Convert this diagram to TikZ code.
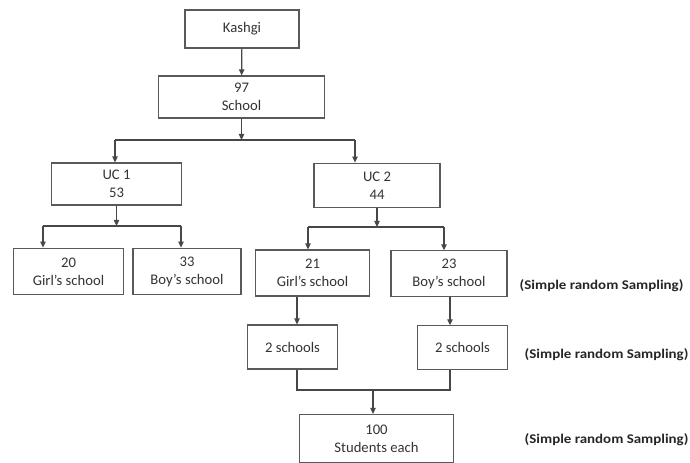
\documentclass[tikz,border=0pt]{standalone}
\usepackage{fontspec}
\setmainfont{Carlito}
\newfontfamily\notefont[FakeStretch=1.12]{Carlito}
\usetikzlibrary{arrows.meta}

\begin{document}
\begin{tikzpicture}[x=0.75pt, y=-0.75pt, >={Triangle[length=4.5pt, width=4pt]},
    box/.style={draw=black!65, line width=0.8pt, align=center, inner sep=0pt,
        text=black!80, font=\fontsize{11}{13.5}\selectfont},
    link/.style={draw=black!72, line width=0.9pt},
    note/.style={anchor=west, text=black!85, font=\notefont\fontsize{10}{12}\selectfont\bfseries}]
    \useasboundingbox (0,0) rectangle (690,463);

    % Nodes
    \node[box, minimum width=85.5pt, minimum height=28.5pt] (kashgi) at (242,29) {Kashgi};
    \node[box, minimum width=124pt, minimum height=31.5pt] (school) at (241.5,97) {97\\School};
    \node[box, minimum width=98pt, minimum height=31.5pt] (uc1) at (116.5,184) {UC 1\\53};
    \node[box, minimum width=94.5pt, minimum height=33.5pt] (uc2) at (377,185.5) {UC 2\\44};
    \node[box, minimum width=83pt, minimum height=35pt] (girls1) at (68.5,271.5) {20\\Girl’s school};
    \node[box, minimum width=81pt, minimum height=35pt] (boys1) at (187,271.5) {33\\Boy’s school};
    \node[box, minimum width=86pt, minimum height=34.5pt] (girls2) at (312.5,273) {21\\Girl’s school};
    \node[box, minimum width=87pt, minimum height=34pt] (boys2) at (449,273.5) {23\\Boy’s school};
    \node[box, minimum width=68pt, minimum height=33pt] (pickg) at (292.5,347) {2 schools};
    \node[box, minimum width=67pt, minimum height=32.5pt] (pickb) at (462.5,347.5) {2 schools};
    \node[box, minimum width=115pt, minimum height=36pt] (students) at (376.5,438.5) {100\\Students each};

    % Notes
    \node[note] (srs1) at (515,286) {(Simple random Sampling)};
    \node[note] (srs2) at (520,355) {(Simple random Sampling)};
    \node[note] (srs3) at (520,440) {(Simple random Sampling)};

    % Branch points
    \coordinate (top l) at (115,140);
    \coordinate (top r) at (355,140);
    \coordinate (uc1 l) at (43,226);
    \coordinate (uc1 r) at (181,226);
    \coordinate (uc2 l) at (308,227);
    \coordinate (uc2 r) at (444,227);
    \coordinate (dn g) at (297,0);
    \coordinate (dn b) at (450,0);
    \coordinate (join) at (373,390);

    % Connections
    \draw[link, ->] (kashgi) -- (school);
    \draw[link, ->] (school.south) -- (school.south |- top l);
    \draw[link] (top l) -- (top r);
    \draw[link, ->] (top l) -- (top l |- uc1.north);
    \draw[link, ->] (top r) -- (top r |- uc2.north);

    \draw[link, ->] (uc1.south) -- (uc1.south |- uc1 l);
    \draw[link] (uc1 l) -- (uc1 r);
    \draw[link, ->] (uc1 l) -- (uc1 l |- girls1.north);
    \draw[link, ->] (uc1 r) -- (uc1 r |- boys1.north);

    \draw[link, ->] (uc2.south) -- (uc2.south |- uc2 l);
    \draw[link] (uc2 l) -- (uc2 r);
    \draw[link, ->] (uc2 l) -- (uc2 l |- girls2.north);
    \draw[link, ->] (uc2 r) -- (uc2 r |- boys2.north);

    \draw[link, ->] (dn g |- girls2.south) -- (dn g |- pickg.north);
    \draw[link, ->] (dn b |- boys2.south) -- (dn b |- pickb.north);
    \draw[link] (dn g |- pickg.south) |- (join) -| (dn b |- pickb.south);
    \draw[link, ->] (join) -- (join |- students.north);
\end{tikzpicture}
\end{document}
